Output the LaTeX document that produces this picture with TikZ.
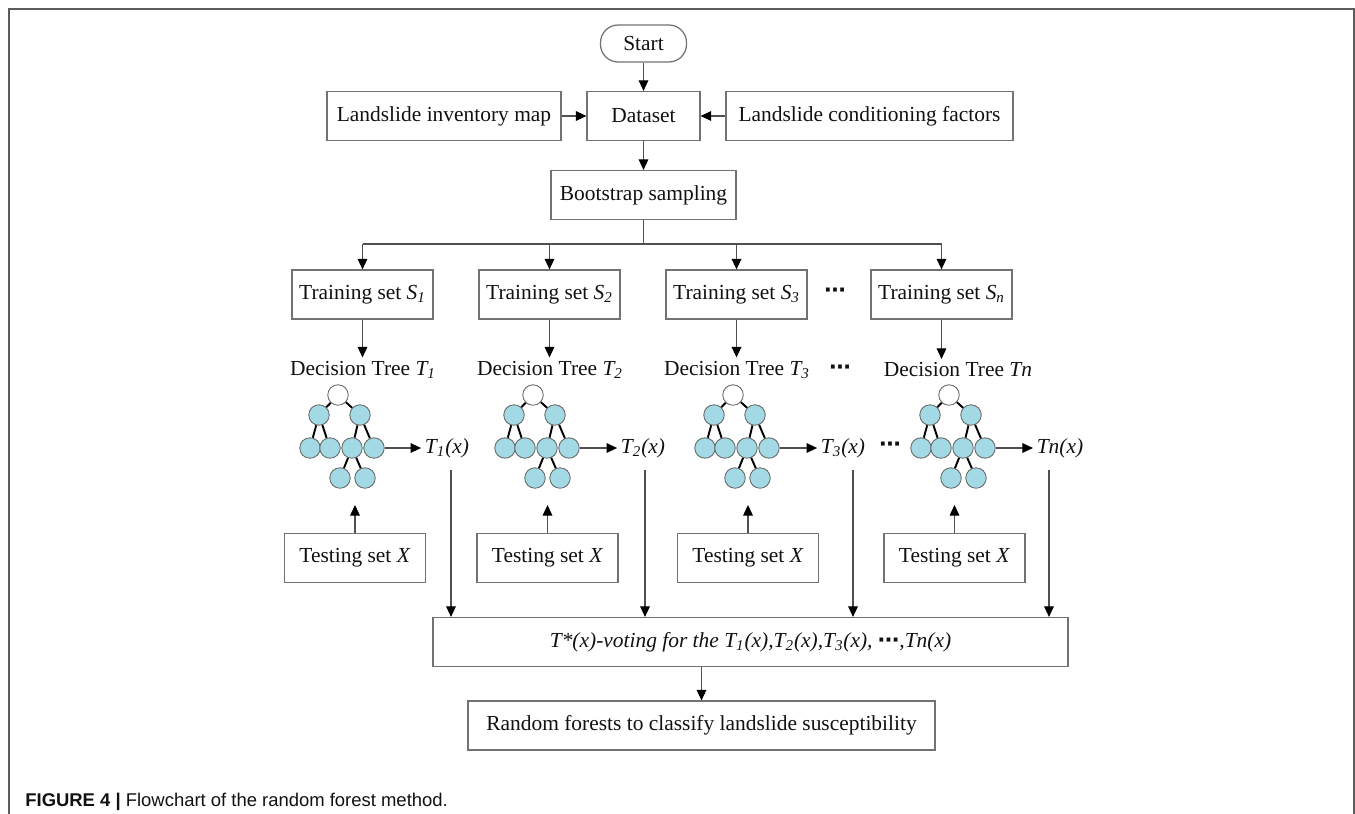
\documentclass[tikz,border=0pt]{standalone}
\usepackage{fontspec}
\setmainfont{Liberation Serif}
\newfontfamily\capsans{Liberation Sans}
\newfontfamily\dotfont{DejaVu Sans}
\usetikzlibrary{arrows.meta,positioning}
\definecolor{ink}{HTML}{111111}
\definecolor{edge}{HTML}{727272}
\definecolor{wire}{HTML}{505050}
\definecolor{leaf}{HTML}{A2D9E4}
\definecolor{frame}{HTML}{5C5C5C}
\newcommand{\ellip}{{\dotfont\bfseries ⋯}}

\begin{document}
\begin{tikzpicture}[
  x=0.02cm, y=-0.02cm,
  font=\fontsize{12.2}{14}\selectfont,
  box/.style={draw=edge, line width=0.7pt, text=ink, minimum width=#1,
    minimum height=0.98cm, inner sep=1pt},
  box/.default=2.82cm,
  tag/.style={text=ink, inner sep=2pt},
  flow/.style={-{Triangle[length=6pt,width=5.5pt,color=black]}, draw=wire, line width=0.6pt},
  link/.style={draw=wire, line width=0.6pt},
  knot/.style={circle, draw=wire!85, fill=leaf, minimum size=0.41cm,
    inner sep=0pt, line width=0.5pt},
  top/.style={knot, fill=white},
  twig/.style={draw=black, line width=1.1pt}
]
  \useasboundingbox (0,0) rectangle (1355,814);
  \draw[frame, line width=1.1pt] (9,814) -- (9,9) -- (1354,9) -- (1354,814);

  \node[box=1.72cm, minimum height=0.74cm, rounded corners=10pt] (start) at (643.5,43.5) {Start};
  \node[box=2.26cm] (data) at (643.5,116) {Dataset};
  \node[box=4.68cm] (inv) at (444,116) {Landslide inventory map};
  \node[box=5.74cm] (cond) at (869.5,116) {Landslide conditioning factors};
  \node[box=3.7cm] (boot) at (643.5,195) {Bootstrap sampling};
  \coordinate (fork) at (643.5,244);

  \draw[flow] (start) -- (data);
  \draw[flow] (inv) -- (data);
  \draw[flow] (cond) -- (data);
  \draw[flow] (data) -- (boot);
  \draw[link] (boot) -- (fork);

  \node[box=12.7cm] (vote) at (750.5,642)
    {\itshape T*(x)-voting for the T\textsubscript{1}(x),T\textsubscript{2}(x),T\textsubscript{3}(x), \ellip,Tn(x)};
  \node[box=9.34cm] (rand) at (701.5,725.5)
    {Random forests to classify landslide susceptibility};
  \draw[flow] (vote.south -| rand) -- (rand);

  % one column per tree
  \foreach \i/\sx/\ex/\lx/\rx/\ox/\vx/\tsub in {
      1/362.5/355/363/338/447/451/{\textsubscript{1}},
      2/549.5/547.5/550/533/643/645/{\textsubscript{2}},
      3/736.5/748/737/733/843/853/{\textsubscript{3}},
      n/941.5/954.5/958/949/1060/1049/{n}} {
    \node[box] (train\i) at (\sx,294.5) {Training set \textit{S\textsubscript{\i}}};
    \node[tag] (dt\i) at (\lx,370) {Decision Tree \textit{T\tsub}};
    \node[box] (test\i) at (\ex,558) {Testing set \textit{X}};
    \node[tag] (out\i) at (\ox,448) {\textit{T\tsub(x)}};
    \coordinate (in\i) at (\ex,505);
    \coordinate (v\i) at (\vx,470);

    \node[top] (r\i) at (\rx,395) {};
    \node[knot] (a\i) at (\rx-19,415) {};
    \node[knot] (b\i) at (\rx+22,415) {};
    \node[knot] (c\i) at (\rx-28,448) {};
    \node[knot] (d\i) at (\rx-8,448) {};
    \node[knot] (e\i) at (\rx+14,448) {};
    \node[knot] (f\i) at (\rx+36,448) {};
    \node[knot] (g\i) at (\rx+2,478) {};
    \node[knot] (h\i) at (\rx+27,478) {};
    \draw[twig] (r\i) -- (a\i) (r\i) -- (b\i) (a\i) -- (c\i) (a\i) -- (d\i)
      (b\i) -- (e\i) (b\i) -- (f\i) (e\i) -- (g\i) (e\i) -- (h\i);

    \draw[flow] (fork -| train\i) -- (train\i);
    \draw[flow] (train\i) -- (train\i |- dt\i.north);
    \draw[flow] (f\i) -- (f\i -| out\i.west);
    \draw[flow] (test\i) -- (in\i);
    \draw[flow] (v\i) -- (v\i |- vote.north);
  }
  \draw[link] (fork -| train1) -- (fork -| trainn);

  \node[tag] (dotsA) at (835,293) {\ellip};
  \node[tag] (dotsB) at (840,370) {\ellip};
  \node[tag] (dotsC) at (890,447) {\ellip};

  \node[anchor=base west, inner sep=0pt, text=ink,
    font=\capsans\fontsize{10.5}{12}\selectfont] (caption) at (25,806)
    {\textbf{FIGURE 4 |} Flowchart of the random forest method.};
\end{tikzpicture}
\end{document}
